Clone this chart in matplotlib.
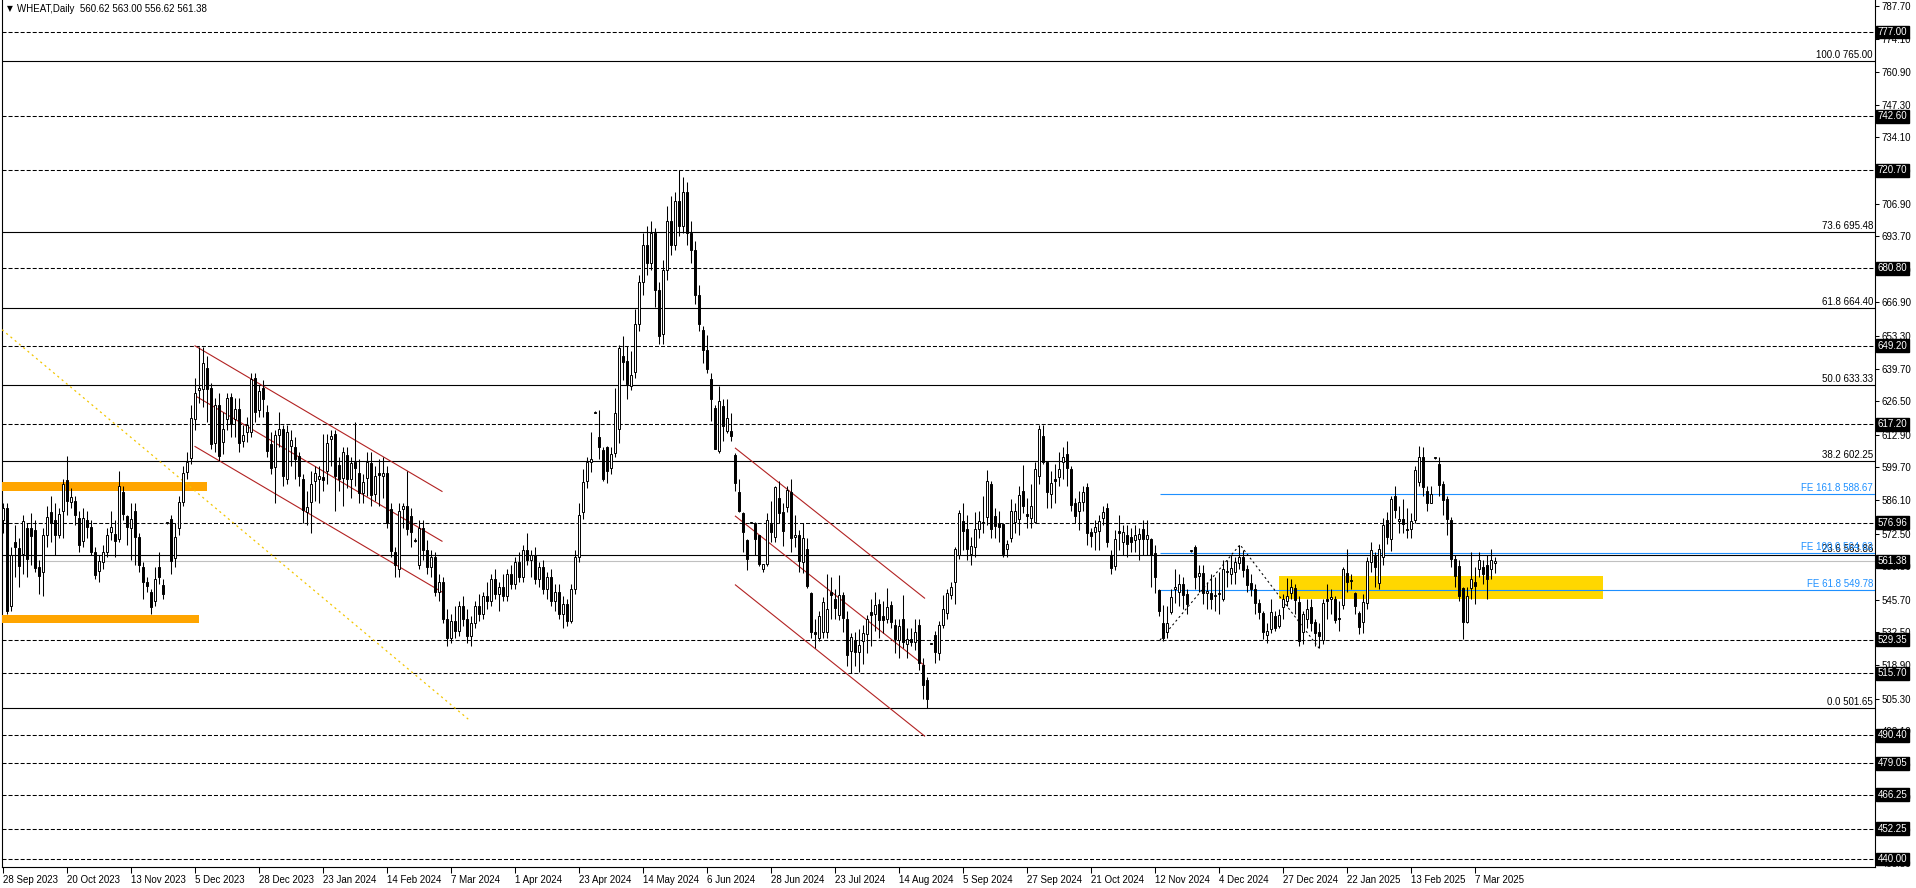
import matplotlib
matplotlib.use("Agg")
import matplotlib.pyplot as plt
from matplotlib.patches import Rectangle
from matplotlib.transforms import blended_transform_factory

plt.rcParams["font.family"] = ["Liberation Sans", "DejaVu Sans"]
plt.rcParams["lines.scale_dashes"] = False

# daily WHEAT candles, 28 Sep 2023 .. 14 Mar 2025 (one entry per bar)
opens = [
    578, 583, 543, 569, 566.7, 564.4, 575, 574.8, 574, 559,
    557, 572, 581.6, 578, 572, 581.7, 594.3, 585.4, 586, 578.9,
    569.4, 578.2, 575.2, 565.3, 557.2, 561, 565, 573.2, 572.5, 570.2,
    589.4, 579.7, 574.8, 582, 571.2, 559, 552.9, 548.8, 545, 559,
    551.6, 576.8, 578.6, 562.6, 574.8, 585.6, 597.5, 603.6, 619.2, 631.1,
    631.4, 640.2, 632, 609.5, 624.9, 610, 619.5, 628.4, 619.2, 623.5,
    610.4, 613.8, 614, 636.1, 623, 632, 622.2, 609, 599.6, 612.7,
    615.1, 594.8, 608.4, 607.7, 604.3, 594.8, 581.6, 585.6, 594.2, 594.8,
    595.5, 598.2, 611.3, 613.1, 600.5, 595.1, 604.6, 594.8, 601.9, 597.3,
    589.2, 595.1, 601.3, 588.7, 597.3, 596.2, 597.3, 582.7, 565, 558,
    582.7, 583.7, 579.9, 570, 560, 575, 566, 559, 563, 549,
    553, 538, 530, 537, 533, 543, 538, 531, 536, 543,
    540, 547, 545, 554, 548, 551, 547, 556, 552, 561,
    555, 566, 562, 564, 554, 559, 550, 555, 545, 549,
    540, 544, 537, 550, 563, 581.5, 594.1, 601.6, 621.9, 612,
    606.7, 607.7, 599.5, 605.4, 615.4, 644.9, 642.8, 632.7, 638.4, 658,
    675, 690, 683, 695, 672, 654, 680, 700, 690, 708,
    698, 712, 695, 688, 670, 655.7, 647.3, 635.4, 623.9, 606.3,
    624.6, 614.4, 614.4, 604.5, 589.4, 581, 569.8, 577, 577, 572.1,
    558.3, 560.3, 576.5, 571.1, 587, 581.3, 583.3, 589.7, 571.1, 572.1,
    561, 566.4, 548.4, 532.3, 530.1, 532.3, 532.3, 548.8, 546.1, 539.6,
    547.4, 538, 524.7, 529.2, 524.2, 528.8, 531.5, 540.7, 540, 544.1,
    539, 538, 543.4, 535.3, 529.2, 538, 527.8, 529.8, 528.5, 535.3,
    519, 512.9, 527.8, 531.2, 523.8, 535.3, 540.4, 547.4, 552.8, 563.7,
    577.9, 574.5, 564.3, 567, 574.5, 577.5, 579.2, 592.8, 579.9, 576.9,
    576.5, 566.4, 570.7, 577.2, 578.6, 590, 580.6, 578.8, 577.2, 596.2,
    612.4, 601.6, 588.7, 595, 595.5, 601.8, 605, 599.1, 585, 582,
    585.3, 591.4, 573.1, 573.4, 573.8, 578.8, 582.9, 563.7, 559.6, 573.8,
    569.1, 572.1, 571.1, 569.8, 570.4, 574.5, 570.6, 570.5, 564.5, 549.6,
    536.1, 532.3, 540.7, 550.2, 548.8, 551.9, 547.9, 565.5, 567.2, 555.3,
    556.4, 548.3, 548.5, 547.2, 547.9, 546.1, 556.9, 556, 556.9, 560.5,
    563.2, 558.3, 552.6, 549.9, 544.5, 540.2, 531.2, 533.9, 539.1, 535,
    542.5, 545.2, 548.3, 550.6, 544.8, 532.3, 538, 542.5, 536.6, 532.6,
    529.3, 545.8, 546.1, 545.8, 538.4, 543.4, 556.4, 553.7, 548.5, 540.2,
    536.4, 544.5, 561, 563.4, 552.6, 563.2, 578.3, 570.5, 587.8, 577.6,
    578.6, 574.5, 574.3, 578.3, 593.5, 603.8, 589.8, 585.1, 603.3, 601,
    592.9, 586.7, 578.3, 562.1, 559.6, 550.6, 536.6, 550.6, 552.9, 558,
    559.1, 560, 558, 560.62,
]
highs = [
    585, 585, 567, 576, 571, 580, 577, 581, 578, 562,
    575, 584, 588, 585, 583, 595, 604.3, 591, 588, 582,
    583, 582, 578, 567, 564, 568, 575, 582, 578, 598.2,
    592, 580, 585, 585, 573, 561, 555, 550, 559, 565,
    554, 577.3, 580, 577, 588, 600, 606, 625, 636, 648.6,
    648.5, 645, 634, 628, 630, 622, 630, 630, 628, 628,
    617, 620, 638, 638, 633, 635, 625, 614, 615, 622,
    617, 617, 615, 612, 606, 597, 590, 598, 600, 600,
    613, 613, 615, 615, 604, 608, 608, 604, 618, 603,
    597, 606, 606, 600, 603, 604, 600, 585, 567, 585,
    585, 598, 583, 571, 578, 578, 570, 566, 565, 556,
    555, 542, 540, 543, 545, 547, 542, 539, 545, 548,
    549, 553, 556, 558, 553, 556, 558, 560, 563, 565,
    568, 573, 566, 567, 561, 562, 557, 558, 552, 552,
    547, 546, 552, 566, 585, 598.9, 604, 614, 622.4, 623,
    608, 608.3, 608, 632, 649.6, 653, 649, 646.9, 664, 678,
    695, 698, 700, 697, 675, 684, 706, 710, 712, 720.7,
    718, 716, 700, 692, 674, 657, 653.7, 638.1, 624.8, 632.7,
    627.3, 627.3, 621.9, 605.6, 594.8, 581.5, 570.2, 577.4, 577.2, 572.1,
    560.3, 581, 586, 592.1, 594, 585, 592, 595, 580, 574,
    577, 570.7, 549, 538, 541, 546.6, 556, 555, 550, 555.7,
    549, 541, 532, 532.3, 533.9, 535.4, 539.6, 546, 548.8, 546,
    545, 550.3, 545, 538, 538, 547.4, 534, 534, 538, 538,
    522, 514, 528.2, 533, 537, 547.4, 550, 553, 567, 582.4,
    585, 580, 571.1, 581.6, 582, 588, 598.5, 594, 583, 582,
    577, 570, 586.7, 585, 592, 600.5, 587, 593, 601.6, 617,
    617, 602, 598, 601, 606, 608, 610.4, 600, 587, 590,
    592, 593.2, 575, 578, 580, 584, 585, 566, 574, 580,
    576, 576, 575, 576, 575, 578, 578, 571, 568, 550,
    543.7, 543, 550, 558, 556, 555, 550, 566, 568, 560,
    560, 553, 556, 555, 557, 562, 562, 563.7, 563, 568,
    566, 560, 556, 552, 546, 541, 536, 546, 541, 542,
    548, 554.4, 554, 552, 547, 541, 546, 546, 538, 536,
    546, 552, 550, 547, 545, 559, 566.4, 556, 549, 541,
    548, 563, 569, 565, 568.5, 579, 581.6, 588, 591.8, 584,
    586.9, 583, 581, 600, 608.1, 608, 592, 592, 603.8, 604,
    594, 588, 579.4, 564, 562, 551, 551, 565, 559, 565.3,
    562, 563.9, 566.3, 563.00,
]
lows = [
    573, 540, 541, 555, 551, 556, 555, 560, 557, 548,
    547, 567, 569, 564, 571, 571, 580, 583, 576, 565,
    567, 571, 564, 554, 553, 558, 563, 570, 563, 569,
    578, 568, 562, 560, 557, 546, 549, 540, 543, 552,
    546, 576.5, 556, 559, 572, 584, 595, 601, 615, 626,
    624, 618, 607, 606, 602, 605, 615, 612, 612, 606,
    608, 610, 612, 618, 620, 620, 604, 597, 585, 608,
    592, 593, 600, 595, 592, 577, 576, 573, 586, 585,
    590, 593, 600, 582, 590, 584, 591, 587, 592, 585,
    585, 588, 584, 586, 584, 587, 575, 563, 555, 555,
    575, 572, 567, 569, 558, 562, 556, 555, 547, 545,
    536, 527, 528, 530, 531, 535, 528, 527, 534, 537,
    538, 542, 543, 546, 541, 545, 545, 550, 550, 553,
    553, 560, 555, 552, 551, 548, 546, 543, 541, 538,
    534, 535, 536, 548, 561, 578.6, 591, 597.5, 621.9, 602.9,
    594, 593.2, 597, 604, 609.7, 635, 627.3, 631.3, 636, 655,
    670, 678, 680, 665, 650, 650, 676, 686, 688, 694,
    695, 690, 683, 666, 655, 642.2, 638.1, 618.5, 607, 605.6,
    610.4, 613.7, 610.4, 590.1, 581.5, 565.3, 557.6, 576.8, 563.7, 559.6,
    556.9, 559.3, 569.1, 569.1, 577, 567.5, 581.6, 565, 567, 557,
    556.4, 550.6, 530, 525.8, 529, 530, 530, 538, 538, 537.5,
    532.5, 518.6, 515.9, 518.6, 516, 519.3, 524, 527, 533, 530,
    532, 536, 534, 524, 522, 526, 522, 527, 525, 517,
    505, 501.65, 527.5, 520, 521, 534, 538, 546, 544.1, 562.3,
    566, 562, 560, 563, 571, 573, 576, 571, 571, 569,
    563, 563, 569, 573, 572, 581, 575, 575, 576.9, 593,
    601, 583, 583, 585, 592, 595, 592, 582, 577, 574,
    582, 568, 567, 566, 566, 576, 567, 556, 557.6, 566,
    564, 563, 565, 565, 562, 564, 564, 551, 548.3, 539,
    529, 530, 540, 544.5, 543, 542, 540, 565.3, 550, 549,
    544, 542, 542, 541, 540, 545, 551, 552, 552, 558,
    555, 549, 547, 540, 538, 529.5, 528, 532, 533, 534,
    538, 543, 546, 540, 527, 527.7, 534, 533, 527, 526,
    527.6, 538, 540, 536, 533, 542, 548.6, 550, 540, 531.5,
    532, 542, 557, 551, 550, 560, 568.5, 565.6, 579, 573,
    573, 571, 571, 577, 592, 588, 582, 585, 603.1, 588,
    580, 572, 559, 551, 545, 529.6, 536, 546, 544, 555,
    552, 546, 554.1, 556.62,
]
closes = [
    583, 541, 563.7, 567, 559.6, 577.9, 562.4, 571.8, 558.6, 555.3,
    572, 579.3, 577, 572.2, 580.6, 592.8, 586, 587.4, 580.2, 568,
    578.9, 575.2, 565.3, 555.6, 561.5, 565, 572, 575.2, 569.4, 591.9,
    580.6, 575.2, 578.6, 571.2, 559.9, 552.9, 551.1, 542.7, 554.2, 554.9,
    547.8, 576.8, 561.3, 571.2, 585.4, 597.3, 601.9, 619.9, 630, 632,
    642, 631.4, 609, 624.9, 604.3, 615.4, 627.9, 617.2, 623.3, 609.7,
    612.7, 616.8, 635.4, 622.2, 630.7, 627.6, 606.3, 599.2, 612.7, 615.4,
    595.9, 613.8, 610.8, 603.2, 596.2, 582.4, 583.3, 592.8, 597.3, 596.2,
    594.6, 609.7, 612.2, 596.2, 594.8, 605.7, 594.8, 601.3, 599.2, 589.2,
    593.8, 601.6, 588.3, 596.2, 596.5, 597.3, 577, 565.7, 559.9, 582,
    583.7, 574.5, 573.2, 569.5, 575, 566, 559, 563, 549, 553,
    538, 530, 537, 533, 543, 538, 531, 536, 543, 540,
    547, 545, 554, 548, 551, 547, 556, 552, 561, 555,
    566, 562, 564, 554, 559, 550, 555, 545, 549, 540,
    544, 537, 550, 563, 580, 593.7, 601.8, 603.2, 621.9, 607.7,
    594.8, 598.2, 605, 621.9, 648.3, 642.6, 633.4, 637.4, 658, 675,
    690, 683, 695, 672, 653, 680, 700, 690, 708, 698,
    712, 695, 688, 670, 658, 647.6, 639.5, 627.3, 607.2, 626.6,
    616.5, 619.8, 612.4, 593.2, 582, 573.1, 562.3, 577, 570.2, 560.3,
    560.3, 578.3, 573.1, 591.4, 581, 573.8, 590.3, 570.7, 572.1, 561.6,
    570.7, 551.2, 532.3, 531.5, 539, 544.7, 542, 547.7, 542.3, 547.4,
    538.2, 523, 530.5, 524.2, 527.4, 531.9, 537.7, 539.3, 543.4, 537.3,
    537.3, 542.7, 536.6, 529.8, 535, 528.5, 529.8, 528.5, 532.5, 519.7,
    510.9, 505, 527.8, 524.4, 535.3, 541.7, 548.5, 550.8, 566.4, 581,
    573.8, 566.4, 567.7, 574.5, 577.9, 576.9, 594.1, 574.5, 575.8, 575.2,
    564.3, 568.4, 582, 582, 588.3, 583.7, 579.6, 584, 598.8, 615.1,
    601.6, 589.7, 593.2, 594.1, 598.9, 604, 599.5, 584.2, 579.9, 585.3,
    589.7, 572.9, 571.5, 575.2, 577.9, 581.5, 569.1, 558.5, 570.4, 572.9,
    573.1, 568.4, 569.1, 572.1, 572.5, 570.5, 572.2, 563.7, 555, 541.1,
    529.9, 536.1, 546.9, 551, 551.9, 547.5, 543.8, 565.5, 555, 556.7,
    548.5, 549.2, 546.1, 547.7, 548.5, 558, 557.3, 558.7, 561, 563.2,
    557.8, 551.5, 550.2, 544.5, 540.7, 532.3, 532.8, 540.7, 534.3, 539.3,
    545.8, 547.2, 551, 545.6, 528.9, 539.8, 542, 536.1, 532, 530.7,
    544.2, 545.2, 546.9, 537.4, 538, 558.3, 552.9, 553.4, 543.1, 534.7,
    544.8, 561.4, 565.9, 559.1, 566.4, 576.3, 571.3, 586.7, 582.1, 578.6,
    576.7, 574, 577.6, 598.6, 603.8, 591.6, 585.1, 588.9, 603.3, 592.5,
    586.4, 578.6, 562.1, 555.3, 547.2, 536.4, 547.2, 554.2, 551.2, 561.8,
    556, 553.9, 561.8, 561.38,
]

date_labels = [
    "28 Sep 2023", "20 Oct 2023", "13 Nov 2023", "5 Dec 2023", "28 Dec 2023",
    "23 Jan 2024", "14 Feb 2024", "7 Mar 2024", "1 Apr 2024", "23 Apr 2024",
    "14 May 2024", "6 Jun 2024", "28 Jun 2024", "23 Jul 2024", "14 Aug 2024",
    "5 Sep 2024", "27 Sep 2024", "21 Oct 2024", "12 Nov 2024", "4 Dec 2024",
    "27 Dec 2024", "22 Jan 2025", "13 Feb 2025", "7 Mar 2025",
]
price_ticks = [787.70, 774.10, 760.90, 747.30, 734.10, 720.50, 706.90, 693.70,
               680.10, 666.90, 653.30, 639.70, 626.50, 612.90, 599.70, 586.10,
               572.50, 559.30, 545.70, 532.50, 518.90, 505.30, 492.10, 478.50,
               465.30, 451.70, 438.50]

# horizontal support / resistance lines (dashed, with boxed labels)
level_prices = [777.00, 742.60, 720.70, 680.80, 649.20, 617.20, 576.96,
                529.35, 515.70, 490.40, 479.05, 466.25, 452.25, 440.00]
last_price = 561.38

# fibonacci retracement
fibo_pct = ["100.0", "73.6", "61.8", "50.0", "38.2", "23.6", "0.0"]
fibo_prices = [765.00, 695.48, 664.40, 633.33, 602.25, 563.86, 501.65]

# fibonacci expansion
fe_pct = ["161.8", "100.0", "61.8"]
fe_prices = [588.67, 564.63, 549.78]
fe_x = [289.25, 309.25, 329.1]
fe_y = [529.2, 568.07, 525.76]

# zones (bar from, bar to, price low, price high)
orange_zones = [(-0.25, 50.9, 590.0, 593.5), (-0.25, 49.0, 536.3, 539.5)]
gold_zone = (319.0, 400.0, 546.0, 555.3)

# red channels: bar start/end, then upper/middle/lower prices at start and end
channel_x = [(48.0, 109.75), (183.1, 230.4)]
channel_y = [
    [(649.1, 589.8), (628.8, 569.5), (608.1, 548.8)],
    [(607.4, 546.3), (579.7, 518.8), (551.7, 490.1)],
]
trend_x = [-0.25, 116.3]
trend_y = [655.7, 497.0]

n = len(closes)
assert len(opens) == n and len(highs) == n and len(lows) == n

fig = plt.figure(figsize=(19.16, 8.88), dpi=100)
ax = fig.add_axes([2 / 1916, 21 / 888, 1873 / 1916, 867 / 888])
ax.set_xlim(-0.25, 468)
ax.set_ylim(436.74, 790.04)
trans = blended_transform_factory(ax.transAxes, ax.transData)
fs = 7

dash = (0, (2.9, 1.45))
for p in level_prices:
    ax.axhline(p, color="black", lw=0.75, ls=dash, zorder=2)
for pct, p in zip(fibo_pct, fibo_prices):
    ax.axhline(p, color="black", lw=0.8, zorder=2)
    ax.text(1 - 2 / 1873, p + 0.4, f"{pct} {p:.2f}", transform=trans,
            ha="right", va="bottom", fontsize=fs, color="black", zorder=8)
ax.axhline(last_price, color="#C0C0C0", lw=0.8, zorder=2)

for x0, x1, y0, y1 in orange_zones:
    ax.add_patch(Rectangle((x0, y0), x1 - x0, y1 - y0, fc="#FFA500", ec="none", zorder=3))
gx0, gx1, gy0, gy1 = gold_zone
ax.add_patch(Rectangle((gx0, gy0), gx1 - gx0, gy1 - gy0, fc="#FFD700", ec="none", zorder=3))

for pct, p in zip(fe_pct, fe_prices):
    ax.hlines(p, fe_x[0], 468, color="#1E90FF", lw=0.8, zorder=3.5)
    ax.text(1 - 2 / 1873, p + 0.4, f"FE {pct} {p:.2f}", transform=trans,
            ha="right", va="bottom", fontsize=fs, color="#1E90FF", zorder=8)
ax.plot(fe_x, fe_y, color="black", lw=0.75, ls=(0, (1.5, 2.0)), zorder=3.5)

for (x0, x1), lines in zip(channel_x, channel_y):
    for y0, y1 in lines:
        ax.plot([x0, x1], [y0, y1], color="#B22222", lw=0.8, zorder=3.5)
ax.plot(trend_x, trend_y, color="#F2C500", lw=0.9, ls=(0, (1.5, 2.5)), zorder=3.5)

# candles
idx = list(range(n))
wick_lo = [min(l, o, c) for o, l, c in zip(opens, lows, closes)]
wick_hi = [max(h, o, c) for o, h, c in zip(opens, highs, closes)]
ax.vlines(idx, wick_lo, wick_hi, color="black", lw=0.75, zorder=4)
body_bottom = [min(o, c) for o, c in zip(opens, closes)]
body_height = [max(abs(c - o), 0.35) for o, c in zip(opens, closes)]
body_color = ["white" if c >= o else "black" for o, c in zip(opens, closes)]
ax.bar(idx, body_height, bottom=body_bottom, width=0.62, color=body_color,
       edgecolor="black", linewidth=0.7, zorder=5)

# axes look
for side in ["left", "right", "bottom"]:
    ax.spines[side].set_color("black")
    ax.spines[side].set_linewidth(0.8)
ax.spines["top"].set_visible(False)
ax.yaxis.tick_right()
ax.set_yticks(price_ticks)
ax.set_yticklabels([f"{v:.2f}" for v in price_ticks])
ax.tick_params(axis="y", length=3, width=0.75, pad=2, labelsize=fs, direction="out")
ax.set_xticks(list(range(0, 16 * len(date_labels), 16)))
ax.set_xticklabels(date_labels, ha="left")
ax.tick_params(axis="x", length=4, width=0.75, pad=2, labelsize=fs, direction="out")

for p in level_prices + [last_price]:
    ax.text(1.0015, p, f"{p:.2f}", transform=trans, color="white", fontsize=fs,
            ha="left", va="center", clip_on=False, zorder=10,
            bbox=dict(boxstyle="square,pad=0.15", fc="black", ec="black"))

fig.text(7 / 1916, 1 - 9 / 888, "\u25bc", fontsize=5.5, va="center", family="DejaVu Sans")
fig.text(17 / 1916, 1 - 9 / 888, "WHEAT,Daily  560.62 563.00 556.62 561.38", fontsize=fs, va="center")

fig.savefig("out.png", dpi=100)
